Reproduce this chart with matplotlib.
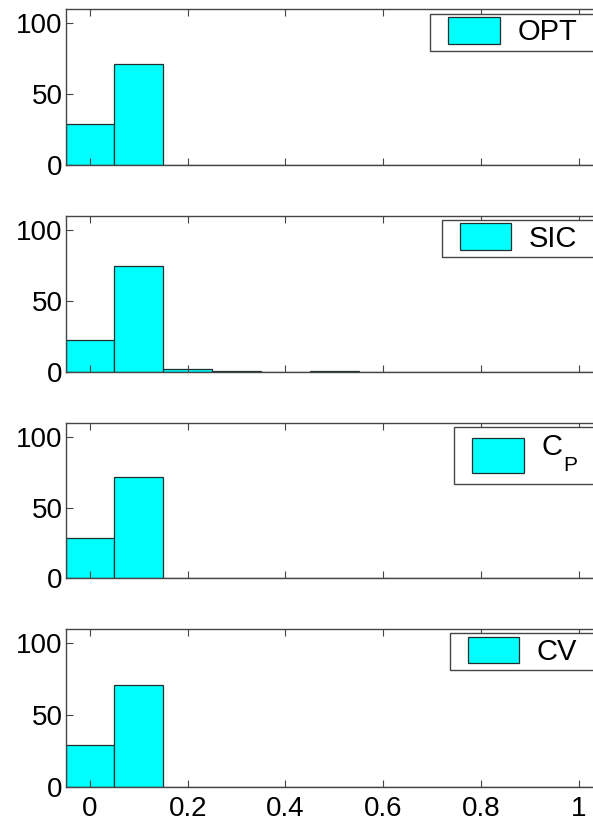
import matplotlib
matplotlib.use("Agg")
import matplotlib.pyplot as plt
from matplotlib.patches import Rectangle
from matplotlib.legend_handler import HandlerPatch

plt.rcParams["font.family"] = ["Liberation Sans", "DejaVu Sans"]
plt.rcParams["mathtext.fontset"] = "custom"
plt.rcParams["mathtext.rm"] = "Liberation Sans"

# histogram bins (centres) and percentage of runs falling in each bin
bin_centers = [0.0, 0.1, 0.2, 0.3, 0.4, 0.5, 0.6, 0.7, 0.8, 0.9, 1.0]
opt_pct = [28.9, 71.1, 0, 0, 0, 0, 0, 0, 0, 0, 0]
sic_pct = [22.3, 74.5, 1.8, 0.7, 0, 0.7, 0, 0, 0, 0, 0]
cp_pct = [28.7, 71.3, 0, 0, 0, 0, 0, 0, 0, 0, 0]
cv_pct = [29.4, 70.6, 0, 0, 0, 0, 0, 0, 0, 0, 0]

series = [opt_pct, sic_pct, cp_pct, cv_pct]
# (main text, subscript)
labels = [("OPT", ""), ("SIC", ""), ("C", "P"), ("CV", "")]

x_ticks = [0, 0.2, 0.4, 0.6, 0.8, 1.0]
x_tick_labels = ["0", "0.2", "0.4", "0.6", "0.8", "1"]
y_ticks = [0, 50, 100]

W, H = 593, 822
# pixel top / bottom of each panel
panel_tops = [9.3, 215.7, 422.7, 629.0]
panel_bottoms = [165.0, 371.7, 578.3, 786.7]

BAR_FACE = "#00ffff"
BAR_EDGE = "#1f2f2f"
SPINE = "#454545"
FS = 20
LEG_FS = 21
SWATCH_H = {"": 0.91, "P": 1.23}
ROW_H = {"": 0.91, "P": 2.16}


def make_swatch(box_h):
    def swatch(legend, orig_handle, xdescent, ydescent, width, height, fontsize):
        # colour box sits right of a small gap, centred in the row
        shift = 0.46 * fontsize
        h = box_h * fontsize
        y0 = -ydescent + (height - h) / 2
        return Rectangle((-xdescent + shift, y0), width - shift, h)
    return swatch


def add_legend(ax, text, row_h, box_h, **where):
    proxy = Rectangle((0, 0), 1, 1, facecolor=BAR_FACE, edgecolor=BAR_EDGE,
                      linewidth=0.9)
    handler = HandlerPatch(patch_func=make_swatch(box_h))
    leg = ax.legend([proxy], [text], borderaxespad=0, fontsize=LEG_FS,
                    fancybox=False, framealpha=1, edgecolor=SPINE,
                    borderpad=0.15, handlelength=2.23, handleheight=row_h,
                    handletextpad=0.6, handler_map={Rectangle: handler},
                    **where)
    leg.get_frame().set_linewidth(1.0)
    return leg


fig = plt.figure(figsize=(W / 100, H / 100), dpi=100)
renderer = fig.canvas.get_renderer()

for i, (vals, (label, sub)) in enumerate(zip(series, labels)):
    top, bot = panel_tops[i], panel_bottoms[i]
    ax = fig.add_axes([65.5 / W, 1 - bot / H, 537.5 / W, (bot - top) / H])
    ax.bar(bin_centers, vals, width=0.1, color=BAR_FACE, edgecolor=BAR_EDGE,
           linewidth=0.9)
    ax.set_xlim(-0.05, 1.05)
    ax.set_ylim(0, 110)
    ax.set_xticks(x_ticks)
    ax.set_yticks(y_ticks)
    ax.set_xticklabels(x_tick_labels)
    for sp in ax.spines.values():
        sp.set_color(SPINE)
        sp.set_linewidth(1.0)
    ax.spines["right"].set_visible(False)
    ax.tick_params(direction="in", top=True, length=5, width=0.8,
                   color=SPINE, labelsize=FS)
    ax.tick_params(axis="y", pad=2)
    ax.tick_params(axis="x", pad=7)
    if i < len(series) - 1:
        ax.tick_params(labelbottom=False)

    # first pass: right-anchored box, only used to find its left edge
    probe = r"$\mathregular{%s_%s}$" % (label, sub) if sub else label
    leg = add_legend(ax, probe, ROW_H[""], SWATCH_H[""], loc="upper right",
                     bbox_to_anchor=(0.96, 0.972))
    x0 = ax.transAxes.inverted().transform(
        leg.get_window_extent(renderer).p0)[0]
    leg.remove()

    # final box runs from that left edge out past the right border
    leg = add_legend(ax, label, ROW_H[sub], SWATCH_H[sub], loc="upper left",
                     bbox_to_anchor=(x0, 0.972, 0.99 - x0, 0), mode="expand")
    if sub:
        txt = leg.get_texts()[0]
        txt.set_y(10)
        # large, dropped subscript next to the legend text
        ax.annotate(sub, xy=(0, 0), xycoords=txt, xytext=(16, -7.2),
                    textcoords="offset points", fontsize=15, va="baseline",
                    ha="left", annotation_clip=False, zorder=10)

fig.savefig("out.png", dpi=100)
